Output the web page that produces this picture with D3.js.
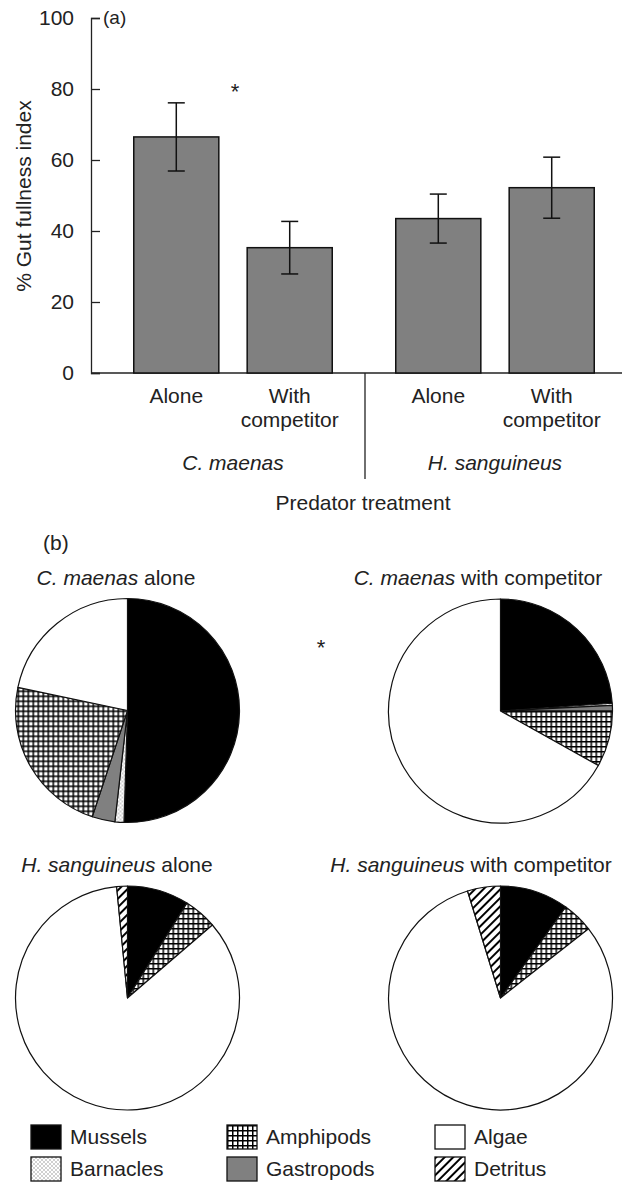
<!DOCTYPE html>
<html>
<head>
<meta charset="utf-8">
<script src="https://cdn.jsdelivr.net/npm/d3@7"></script>
<style>
  html, body { margin: 0; padding: 0; background: #fff; }
  svg { display: block; font-family: "Liberation Sans", Arial, sans-serif; }
  text { fill: #222; }
</style>
</head>
<body>
<svg id="fig" width="625" height="1183"></svg>
<script>
// ---- Panel (a): gut fullness by predator treatment ----
const species = ["C. maenas", "H. sanguineus"];
const treatments = ["Alone", "With competitor"];
const gutMeans = [66.5, 35.3, 43.5, 52.2];   // C.m. alone, C.m. w/ comp, H.s. alone, H.s. w/ comp
const gutErrors = [9.6, 7.4, 6.9, 8.6];
const yTicks = [0, 20, 40, 60, 80, 100];

// ---- Panel (b): diet composition (% of gut contents) ----
const dietItems = ["Mussels", "Barnacles", "Gastropods", "Amphipods", "Algae", "Detritus"];
const pieTitles = [
  ["C. maenas", " alone"],
  ["C. maenas", " with competitor"],
  ["H. sanguineus", " alone"],
  ["H. sanguineus", " with competitor"]
];
const dietCmAlone = [50.5, 1.3, 3.3, 23.2, 21.7, 0];
const dietCmComp  = [23.9, 0.3, 0.8, 8.1, 66.9, 0];
const dietHsAlone = [8.9, 0, 0, 4.8, 84.75, 1.55];
const dietHsComp  = [9.9, 0, 0, 4.5, 80.85, 4.75];
const legendColumns = [["Mussels", "Barnacles"], ["Amphipods", "Gastropods"], ["Algae", "Detritus"]];

const svg = d3.select("#fig");
const FS = 21;

// ---- fill patterns ----
const defs = svg.append("defs");
const pDots = defs.append("pattern").attr("id", "dots").attr("patternUnits", "userSpaceOnUse")
  .attr("width", 4).attr("height", 4);
pDots.append("rect").attr("width", 4).attr("height", 4).attr("fill", "#fff");
pDots.append("circle").attr("cx", 1).attr("cy", 1).attr("r", 0.75).attr("fill", "#8a8a8a");
pDots.append("circle").attr("cx", 3).attr("cy", 3).attr("r", 0.75).attr("fill", "#8a8a8a");

const pGrid = defs.append("pattern").attr("id", "grid").attr("patternUnits", "userSpaceOnUse")
  .attr("width", 5).attr("height", 5);
pGrid.append("rect").attr("width", 5).attr("height", 5).attr("fill", "#fff");
pGrid.append("path").attr("d", "M0,0.75H5M0.75,0V5").attr("stroke", "#000").attr("stroke-width", 1.5);

const pHatch = defs.append("pattern").attr("id", "hatch").attr("patternUnits", "userSpaceOnUse")
  .attr("width", 6).attr("height", 6).attr("patternTransform", "rotate(45)");
pHatch.append("rect").attr("width", 6).attr("height", 6).attr("fill", "#fff");
pHatch.append("line").attr("x1", 1).attr("x2", 1).attr("y1", 0).attr("y2", 6)
  .attr("stroke", "#000").attr("stroke-width", 2);

const dietFill = d3.scaleOrdinal()
  .domain(dietItems)
  .range(["#000", "url(#dots)", "#808080", "url(#grid)", "#fff", "url(#hatch)"]);

// ================= Panel (a) =================
const y = d3.scaleLinear().domain([0, 100]).range([373, 18]);
const x0 = d3.scaleBand().domain(species).range([102, 626]);
const x1 = d3.scaleBand().domain(treatments).range([0, x0.bandwidth()])
  .paddingInner(0.25).paddingOuter(0.28);
const axisLeftX = 91;

const bars = [];
species.forEach((s, i) => treatments.forEach((t, j) => {
  const k = i * treatments.length + j;
  bars.push({ species: s, treatment: t, mean: gutMeans[k], err: gutErrors[k] });
}));

const gA = svg.append("g");

// y axis with inward ticks
const yAxis = gA.append("g").attr("transform", `translate(${axisLeftX},0)`)
  .call(d3.axisLeft(y).tickValues(yTicks).tickSize(-9).tickPadding(17));
yAxis.select(".domain").attr("stroke", "#222").attr("stroke-width", 1.3);
yAxis.selectAll(".tick line").attr("stroke", "#222").attr("stroke-width", 1.3);
yAxis.selectAll(".tick text").attr("font-size", FS).attr("fill", "#222")
  .attr("font-family", "Liberation Sans, Arial, sans-serif");

// baseline
gA.append("line").attr("x1", axisLeftX).attr("x2", 622).attr("y1", y(0)).attr("y2", y(0))
  .attr("stroke", "#222").attr("stroke-width", 1.3);

// bars
gA.selectAll("rect.bar").data(bars).join("rect").attr("class", "bar")
  .attr("x", d => x0(d.species) + x1(d.treatment))
  .attr("width", x1.bandwidth())
  .attr("y", d => y(d.mean))
  .attr("height", d => y(0) - y(d.mean))
  .attr("fill", "#808080").attr("stroke", "#111").attr("stroke-width", 1.5);

// error bars
const eb = gA.selectAll("g.err").data(bars).join("g").attr("class", "err")
  .attr("transform", d => `translate(${x0(d.species) + x1(d.treatment) + x1.bandwidth() / 2},0)`);
eb.append("line").attr("y1", d => y(d.mean + d.err)).attr("y2", d => y(d.mean - d.err))
  .attr("stroke", "#111").attr("stroke-width", 1.5);
eb.append("line").attr("x1", -8.5).attr("x2", 8.5)
  .attr("y1", d => y(d.mean + d.err)).attr("y2", d => y(d.mean + d.err))
  .attr("stroke", "#111").attr("stroke-width", 1.5);
eb.append("line").attr("x1", -8.5).attr("x2", 8.5)
  .attr("y1", d => y(d.mean - d.err)).attr("y2", d => y(d.mean - d.err))
  .attr("stroke", "#111").attr("stroke-width", 1.5);

// treatment labels
const tl = gA.selectAll("text.treat").data(bars).join("text").attr("class", "treat")
  .attr("text-anchor", "middle").attr("font-size", FS)
  .attr("x", d => x0(d.species) + x1(d.treatment) + x1.bandwidth() / 2);
tl.each(function(d) {
  const words = d.treatment === "Alone" ? ["Alone"] : ["With", "competitor"];
  const sel = d3.select(this);
  words.forEach((w, i) => sel.append("tspan")
    .attr("x", x0(d.species) + x1(d.treatment) + x1.bandwidth() / 2)
    .attr("y", 403 + i * 24).text(w));
});

// species labels and group divider
gA.selectAll("text.sp").data(species).join("text").attr("class", "sp")
  .attr("x", d => x0(d) + x0.bandwidth() / 2).attr("y", 470)
  .attr("text-anchor", "middle").attr("font-size", FS).attr("font-style", "italic").text(d => d);
gA.append("line").attr("x1", x0(species[1]) + 1).attr("x2", x0(species[1]) + 1)
  .attr("y1", y(0)).attr("y2", 479).attr("stroke", "#222").attr("stroke-width", 1.3);

gA.append("text").attr("x", 363).attr("y", 510).attr("text-anchor", "middle")
  .attr("font-size", FS).text("Predator treatment");

// y title
gA.append("text").attr("transform", "translate(31,196) rotate(-90)")
  .attr("text-anchor", "middle").attr("font-size", FS).text("% Gut fullness index");

gA.append("text").attr("x", 103).attr("y", 24).attr("font-size", 19).text("(a)");
gA.append("text").attr("x", 235).attr("y", 99).attr("text-anchor", "middle")
  .attr("font-size", 22).text("*");

// ================= Panel (b) =================
const gB = svg.append("g");
gB.append("text").attr("x", 43).attr("y", 550).attr("font-size", FS).text("(b)");
gB.append("text").attr("x", 321).attr("y", 655).attr("text-anchor", "middle")
  .attr("font-size", 22).text("*");

const pieSets = [dietCmAlone, dietCmComp, dietHsAlone, dietHsComp];
const pieCenters = [[127.5, 710.5], [500.5, 711], [127.5, 998], [500.5, 998]];
const titleCenters = [[116, 585], [478, 585], [117, 872], [471, 872]];
const radius = 112;

const pie = d3.pie().sort(null).value(d => d.value);
const arc = d3.arc().innerRadius(0).outerRadius(radius);

pieSets.forEach((vals, i) => {
  const data = dietItems.map((k, j) => ({ item: k, value: vals[j] }));
  const g = gB.append("g").attr("transform", `translate(${pieCenters[i][0]},${pieCenters[i][1]})`);
  g.selectAll("path").data(pie(data).filter(d => d.data.value > 0)).join("path")
    .attr("d", arc)
    .attr("fill", d => dietFill(d.data.item))
    .attr("stroke", "#111").attr("stroke-width", 1.2).attr("stroke-linejoin", "round");
  const t = gB.append("text").attr("x", titleCenters[i][0]).attr("y", titleCenters[i][1])
    .attr("text-anchor", "middle").attr("font-size", FS);
  t.append("tspan").attr("font-style", "italic").text(pieTitles[i][0]);
  t.append("tspan").text(pieTitles[i][1]);
});

// legend
const legendX = [31, 227, 435];
const legendY = [1125, 1157];
legendColumns.forEach((col, c) => col.forEach((item, r) => {
  const g = gB.append("g").attr("transform", `translate(${legendX[c]},${legendY[r]})`);
  g.append("rect").attr("width", 30).attr("height", 24)
    .attr("fill", dietFill(item)).attr("stroke", "#111").attr("stroke-width", 1.3);
  g.append("text").attr("x", 39).attr("y", 19).attr("font-size", FS).text(item);
}));
</script>
</body>
</html>
